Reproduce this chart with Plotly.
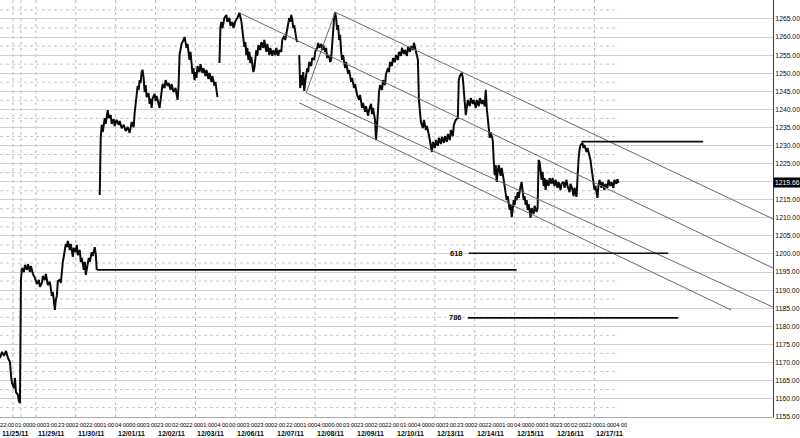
import plotly.graph_objects as go

# ---- price series (bar index, price) ----
bars = [0, 2, 4, 6, 8, 10, 11, 12, 14, 15, 16, 18, 19, 20, 21, 22, 24, 25, 27, 28, 30, 31, 33, 35, 37, 39, 40, 42, 43, 45, 46, 48, 50, 51, 52, 53, 54, 55, 56, 57, 58, 60, 61, 62, 63, 64, 65, 66, 67, 68, 70, 71, 73, 74, 76, 77, 78, 80, 81, 82, 84, 85, 86, 88, 89, 90, 92, 93, 95, 96, 97, 98,
        100, 101, 102, 103, 105, 106, 108, 109, 111, 112, 114, 115, 117, 119, 120, 122, 124, 126, 128, 130, 132, 134, 135, 136, 137, 138, 139, 140, 141, 142, 143, 144, 145, 146, 147, 149, 150, 151, 152, 153, 155, 156, 157, 159, 160, 161, 162, 163, 165, 166, 168, 169, 171, 172, 174, 176, 178, 179, 180, 181, 182, 184, 185, 186, 187, 188, 189, 190, 191, 192, 193, 194, 195, 196, 197, 198, 200, 201, 203, 204, 206, 207, 209, 210, 212, 213, 215, 216, 217, 218, 219,
        220, 221, 222, 223, 225, 227, 228, 230, 231, 233, 234, 236, 238, 240, 241, 242, 243, 244, 245, 246, 247, 248, 249, 250, 251, 252, 253, 254, 255, 256, 257, 258, 259, 261, 262, 264, 265, 266, 267, 268, 270, 271, 273, 274, 276, 277, 279, 280, 282, 283, 285, 286, 288, 289, 290, 291, 292, 293, 294, 295, 296, 297, 298, 299,
        300, 301, 302, 303, 304, 305, 306, 307, 308, 309, 310, 312, 313, 315, 316, 318, 319, 320, 322, 323, 324, 326, 327, 328, 330, 331, 332, 333, 334, 335, 336, 337, 338, 339, 340, 341, 342, 343, 344, 346, 347, 349, 350, 352, 353, 355, 356, 358, 360, 361, 363, 364, 366, 367, 369, 370, 372, 373, 374, 376, 377, 378, 379, 380, 381, 383, 384, 386, 387, 389, 390, 391, 393, 394, 396, 397, 399, 400, 402, 403, 405, 406, 408, 409, 411, 412, 414, 415, 416, 418, 419,
        420, 421, 422, 424, 425, 427, 428, 430, 431, 432, 433, 434, 436, 437, 439, 440, 442, 443, 445, 446, 448, 449, 451, 452, 454, 455, 457, 459, 460, 461, 463, 464, 465, 466, 467, 468, 469, 471, 472, 474, 475, 477, 478, 480, 481, 483, 484, 486, 487, 488, 489, 490, 491, 492, 494, 495, 496, 497, 498, 499, 500, 502, 503, 505, 506, 507, 508, 509, 510, 511, 512, 513, 514, 515, 516, 517, 518, 519, 520, 521, 522, 523, 524, 525, 526, 527, 528, 529, 530, 531, 532, 533, 535, 536, 538, 539,
        540, 541, 542, 543, 544, 545, 546, 547, 548, 550, 551, 553, 554, 556, 557, 559, 560, 562, 563, 565, 566, 568, 569, 571, 572, 574, 575, 576, 578, 579, 580, 581, 582, 584, 585, 586, 588, 589, 591, 592, 593, 594, 595, 596, 597, 598, 599, 600, 601, 603, 604, 606, 607, 609, 610, 612, 613, 615, 616, 618, 619, 620]

prices = [1171.2, 1172.9, 1171.8, 1173.2, 1171.2, 1170.1, 1166.5, 1164.3, 1162.9, 1165.7, 1161.8, 1161.0, 1159.3, 1158.8, 1192.8, 1196.1, 1195.0, 1197.0, 1195.6, 1197.2, 1195.0, 1196.7, 1194.5, 1193.4, 1191.7, 1192.8, 1190.9, 1192.0, 1193.9, 1192.8, 1194.5, 1191.4, 1192.3, 1190.0, 1188.4, 1189.5, 1186.2, 1184.5, 1187.3, 1188.4, 1192.5, 1192.8, 1192.0, 1196.1, 1197.8, 1199.4, 1201.1, 1202.8, 1201.9, 1203.6, 1201.1, 1202.8, 1199.2, 1201.7, 1200.5, 1202.5, 1199.7, 1201.1, 1197.8, 1198.9, 1195.6, 1197.8, 1194.2, 1196.7, 1198.9, 1197.8, 1200.5, 1199.4, 1201.9, 1200.0, 1195.6, None,
          1216.3, 1232.4, 1235.7, 1233.7, 1237.6, 1236.0, 1239.8, 1237.6, 1238.4, 1236.0, 1237.3, 1235.4, 1237.1, 1235.7, 1236.8, 1234.8, 1235.7, 1234.0, 1235.1, 1233.5, 1236.5, 1235.1, 1239.0, 1241.8, 1244.0, 1246.5, 1245.4, 1248.1, 1247.3, 1250.3, 1250.9, 1248.7, 1244.8, 1246.7, 1243.4, 1244.5, 1241.5, 1242.9, 1240.4, 1243.1, 1244.3, 1242.3, 1243.7, 1241.8, 1240.4, 1242.6, 1245.4, 1247.0, 1245.9, 1248.1, 1246.5, 1247.3, 1245.4, 1247.0, 1244.8, 1245.9, 1242.6, 1246.2, 1255.0, 1256.4, 1258.1, 1259.2, 1260.0, 1258.6, 1257.0, 1258.1, 1255.3, 1253.7, 1255.9, 1252.0, 1249.8, 1251.4, 1248.1, 1250.3, 1248.7, 1252.0, 1250.3, 1252.5, 1250.1, 1251.4, 1249.2, 1250.9, 1248.4, 1250.1, 1247.6, 1249.2, 1246.5, 1247.6, 1244.8, 1243.4, None,
          1252.8, 1262.8, 1264.2, 1262.5, 1265.3, 1266.1, 1264.2, 1265.3, 1263.1, 1264.2, 1262.5, 1264.4, 1265.3, 1266.7, 1265.5, 1264.4, 1262.0, 1259.7, 1257.3, 1258.6, 1255.0, 1257.0, 1253.7, 1255.9, 1252.8, 1254.5, 1252.0, 1250.3, 1251.4, 1254.2, 1256.4, 1254.8, 1257.8, 1256.4, 1258.6, 1257.0, 1259.2, 1257.5, 1255.9, 1258.1, 1255.0, 1257.0, 1254.8, 1256.4, 1255.0, 1257.0, 1254.8, 1256.4, 1255.9, 1259.2, 1260.3, 1259.2, 1262.0, 1263.1, 1265.3, 1264.2, 1266.1, 1265.0, 1262.5, 1263.3, 1260.6, 1259.7, 1258.6, None,
          1255.0, 1245.9, 1249.5, 1246.7, 1250.3, 1245.1, 1247.6, 1249.5, 1251.4, 1250.3, 1253.1, 1252.0, 1254.2, 1253.7, 1255.9, 1257.0, 1258.4, 1257.0, 1258.1, 1256.4, 1257.8, 1255.9, 1257.0, 1254.2, 1255.0, 1253.1, 1253.7, 1257.8, 1262.0, 1265.3, 1266.9, 1265.3, 1262.0, 1263.3, 1259.2, 1260.6, 1255.9, 1253.7, 1255.0, 1251.4, 1253.1, 1249.8, 1250.9, 1247.6, 1248.7, 1245.9, 1247.0, 1244.0, 1242.6, 1244.0, 1240.4, 1241.8, 1239.3, 1240.9, 1238.2, 1239.8, 1241.5, 1238.7, 1240.4, 1237.1, 1231.5, 1234.8, 1239.8, 1244.8, 1246.7, 1245.4, 1248.1, 1246.7, 1249.8, 1251.4, 1250.3, 1253.1, 1252.0, 1254.2, 1253.1, 1255.0, 1253.7, 1255.9, 1254.8, 1257.0, 1255.3, 1256.4, 1254.8, 1257.3, 1255.9, 1257.5, 1256.4, 1258.4, 1257.0, 1255.0, 1253.7,
          1242.6, 1237.9, 1236.5, 1234.8, 1237.1, 1234.3, 1235.4, 1232.9, 1231.5, 1229.9, 1228.2, 1231.0, 1229.3, 1231.5, 1229.9, 1232.1, 1230.4, 1232.4, 1230.7, 1232.6, 1231.0, 1233.2, 1231.5, 1234.3, 1232.6, 1235.7, 1237.1, 1237.6, 1248.1, 1249.2, 1250.1, 1248.7, 1245.9, 1242.6, 1238.4, 1240.4, 1242.6, 1240.9, 1243.1, 1241.5, 1242.6, 1240.4, 1242.6, 1240.9, 1243.1, 1241.5, 1242.6, 1240.9, 1245.4, 1240.4, 1237.6, 1234.8, 1232.1, 1233.7, 1231.5, 1226.0, 1221.8, 1224.6, 1219.9, 1222.7, 1224.6, 1221.6, 1223.8, 1220.5, 1218.8, 1217.7, 1214.9, 1216.0, 1213.3, 1212.2, 1213.6, 1210.2, 1212.2, 1214.9, 1213.6, 1216.0, 1214.9, 1217.1, 1215.5, 1217.7, 1218.8, 1219.9, 1217.1, 1214.9, 1216.0, 1213.6, 1214.9, 1212.2, 1213.8, 1211.6, 1210.0, 1212.7, 1211.1, 1213.3, 1211.6, 1212.7,
          1226.0, 1225.4, 1223.2, 1220.5, 1222.7, 1218.8, 1221.0, 1217.7, 1220.5, 1218.8, 1221.0, 1219.4, 1221.0, 1218.8, 1220.5, 1218.3, 1219.9, 1217.7, 1219.4, 1219.9, 1218.3, 1220.5, 1218.8, 1217.1, 1219.4, 1217.7, 1216.0, 1218.3, 1215.8, 1223.2, 1226.0, 1228.8, 1230.1, 1230.7, 1229.3, 1230.1, 1228.2, 1229.3, 1227.1, 1226.0, 1223.8, 1221.6, 1219.9, 1217.7, 1218.8, 1216.6, 1215.5, 1218.8, 1220.5, 1218.3, 1219.9, 1217.7, 1219.4, 1218.3, 1220.5, 1218.8, 1219.9, 1218.3, 1220.5, 1219.4, 1220.7, 1219.66]

last_price = 1219.66

# ---- x-axis labels ----
time_labels = ["22:00", "01:00",
               "00:00", "03:00", "23:00", "02:00", "22:00", "01:00", "04:00",
               "00:00", "03:00", "23:00", "02:00", "22:00", "01:00", "04:00",
               "00:00", "03:00", "23:00", "02:00", "22:00", "01:00", "04:00",
               "00:00", "03:00", "23:00", "02:00", "22:00", "01:00", "04:00",
               "00:00", "03:00", "23:00", "02:00", "22:00", "01:00", "04:00",
               "00:00", "03:00", "23:00", "02:00", "22:00", "01:00", "04:00"]
date_labels = ["11/25/11", "11/29/11", "11/30/11", "12/01/11", "12/02/11", "12/03/11",
               "12/06/11", "12/07/11", "12/08/11", "12/09/11", "12/10/11", "12/13/11",
               "12/14/11", "12/15/11", "12/16/11", "12/17/11"]
date_bars = [0, 36, 76, 116, 156, 196, 236, 276, 316, 356, 396, 436, 476, 516, 556, 596]
vgrid_bars = [13, 21, 36, 76, 116, 156, 196, 236, 276, 316, 356, 396, 436, 476, 516, 556, 596]

# ---- drawn horizontal levels ----
level_values = [1195.6, 1200.2, 1182.3, 1231.1]
level_start = [97, 470, 469, 583]
level_end = [518, 670, 680, 705]
level_text = ["", "618", "786", ""]

# ---- channel / pitchfork lines ----
chan_x0 = [336, 240, 307, 300, 307]
chan_y0 = [1266.9, 1266.7, 1244.6, 1241.8, 1244.6]
chan_x1 = [775, 775, 775, 733, 336]
chan_y1 = [1209.7, 1196.1, 1185.3, 1184.5, 1266.9]

X_MAX = 775
Y_MIN, Y_MAX = 1154.9, 1270.25
FONT = "Liberation Sans, Arial, sans-serif"
INK = "#0a0a0a"

n_time = len(time_labels)
time_step = (622 - 7.5) / (n_time - 1)
time_ticks = [7.5 + i * time_step for i in range(n_time)]

fig = go.Figure()

shapes = []
for b in vgrid_bars:
    shapes.append(dict(type="line", xref="x", yref="paper", x0=b, x1=b, y0=0, y1=1,
                       line=dict(color="#b8b8b8", width=1, dash="dot"), layer="below"))
v = 1157.5
while v < Y_MAX:
    shapes.append(dict(type="line", xref="x", yref="y", x0=0, x1=620, y0=v, y1=v,
                       line=dict(color="#c8c8c8", width=1, dash="dot"), layer="below"))
    v += 5
for a, b, c, d in zip(chan_x0, chan_y0, chan_x1, chan_y1):
    shapes.append(dict(type="line", xref="x", yref="y", x0=a, y0=b, x1=c, y1=d,
                       line=dict(color="#6a6a6a", width=1)))
for val, s, e in zip(level_values, level_start, level_end):
    shapes.append(dict(type="line", xref="x", yref="y", x0=s, x1=e, y0=val, y1=val,
                       line=dict(color=INK, width=1.7)))

fig.add_trace(go.Scatter(x=bars, y=prices, mode="lines", connectgaps=False,
                         line=dict(color=INK, width=2), hoverinfo="skip"))

annotations = []
for txt, s, val in zip(level_text, level_start, level_values):
    if txt:
        annotations.append(dict(x=s - 4, y=val, xref="x", yref="y", text=txt, showarrow=False,
                                xanchor="right", yanchor="middle",
                                font=dict(family=FONT, size=7.5, color=INK, weight="bold")))
for txt, t in zip(time_labels, time_ticks):
    annotations.append(dict(x=t, y=0, xref="x", yref="paper", text=txt, showarrow=False,
                            xanchor="center", yanchor="middle", yshift=-8,
                            font=dict(family=FONT, size=5.7, color="#000000")))
for txt, b in zip(date_labels, date_bars):
    annotations.append(dict(x=b, y=0, xref="x", yref="paper", text=txt, showarrow=False,
                            xanchor="left", yanchor="middle", yshift=-16,
                            font=dict(family=FONT, size=7, color=INK, weight="bold")))
annotations.append(dict(x=1, y=last_price, xref="paper", yref="y", text=f"{last_price:.2f}",
                        showarrow=False, xanchor="left", yanchor="middle", xshift=0,
                        bgcolor="#000000", borderpad=1,
                        font=dict(family=FONT, size=6.8, color="#ffffff")))

fig.update_layout(
    width=800, height=438,
    margin=dict(l=0, r=25, t=0, b=21),
    paper_bgcolor="white", plot_bgcolor="white",
    showlegend=False,
    shapes=shapes,
    annotations=annotations,
    xaxis=dict(range=[0, X_MAX], showgrid=False, zeroline=False, showticklabels=False,
               ticks="", showline=True, linecolor="#a8a8a8", linewidth=1),
    yaxis=dict(range=[Y_MIN, Y_MAX], side="right", showgrid=True, gridcolor="#d0d0d0",
               gridwidth=1, zeroline=False, tick0=1155, dtick=5, tickformat=".2f",
               tickfont=dict(family=FONT, size=6.8, color=INK),
               ticks="", showline=True, linecolor="#404040", linewidth=1),
)

fig.write_html("out.html", config={"displayModeBar": False},
               post_script="document.body.style.margin='0';document.body.style.overflow='hidden';")
